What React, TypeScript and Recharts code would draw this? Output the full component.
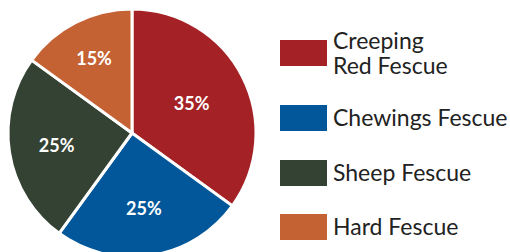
import React from "react";
import { PieChart, Pie, Cell, Legend } from "recharts";

const categories = ["Creeping Red Fescue", "Chewings Fescue", "Sheep Fescue", "Hard Fescue"];
const legendLines = [["Creeping", "Red Fescue"], ["Chewings Fescue"], ["Sheep Fescue"], ["Hard Fescue"]];
const values = [35, 25, 25, 15];
const colors = ["#A42226", "#01579A", "#334233", "#C46233"];

const data = categories.map((name, i) => ({ name, value: values[i] }));

const RAD = Math.PI / 180;

const renderLabel = (props: any) => {
  const { cx, cy, midAngle, outerRadius, percent } = props;
  const half = Math.PI * percent;
  const r = ((2 / 3) * outerRadius * Math.sin(half)) / half * (1 + 0.25 * (0.35 - percent));
  const x = cx + r * Math.cos(-midAngle * RAD);
  const y = cy + r * Math.sin(-midAngle * RAD);
  return (
    <text x={x} y={y} fill="#fff" textAnchor="middle" dominantBaseline="central"
      fontFamily="Lato" fontWeight={700} fontSize={18}>
      {`${Math.round(percent * 100)}%`}
    </text>
  );
};

const LH = 24.5;

const renderLegend = () => {
  const tops = [40, 105, 160, 214];
  return (
    <div style={{ position: "relative", width: 230, height: 252 }}>
      {categories.map((c, i) => (
        <div key={c}>
          <div style={{ position: "absolute", left: 0, top: tops[i], width: 47, height: 26, background: colors[i] }} />
          <div style={{ position: "absolute", left: 53, top: tops[i] + 13 - (legendLines[i].length * LH) / 2 - 0.4,
            fontFamily: "Lato", fontSize: 23, lineHeight: `${LH}px`, color: "#222", whiteSpace: "nowrap" }}>
            {legendLines[i].map((l) => <div key={l}>{l}</div>)}
          </div>
        </div>
      ))}
    </div>
  );
};

export default function App() {
  return (
    <div style={{ position: "absolute", left: 0, top: 0, width: 510, height: 252, background: "#fff" }}>
      <PieChart width={510} height={252} margin={{ top: 0, right: 0, bottom: 0, left: 0 }}>
        <Pie data={data} dataKey="value" nameKey="name" cx={132} cy={133} outerRadius={124}
          startAngle={90} endAngle={-270} stroke="#fff" strokeWidth={3}
          label={renderLabel} labelLine={false} isAnimationActive={false}>
          {data.map((d, i) => <Cell key={d.name} fill={colors[i]} />)}
        </Pie>
        <Legend content={renderLegend} wrapperStyle={{ position: "absolute", left: 280, top: 0, width: 230, height: 252 }} />
      </PieChart>
    </div>
  );
}
